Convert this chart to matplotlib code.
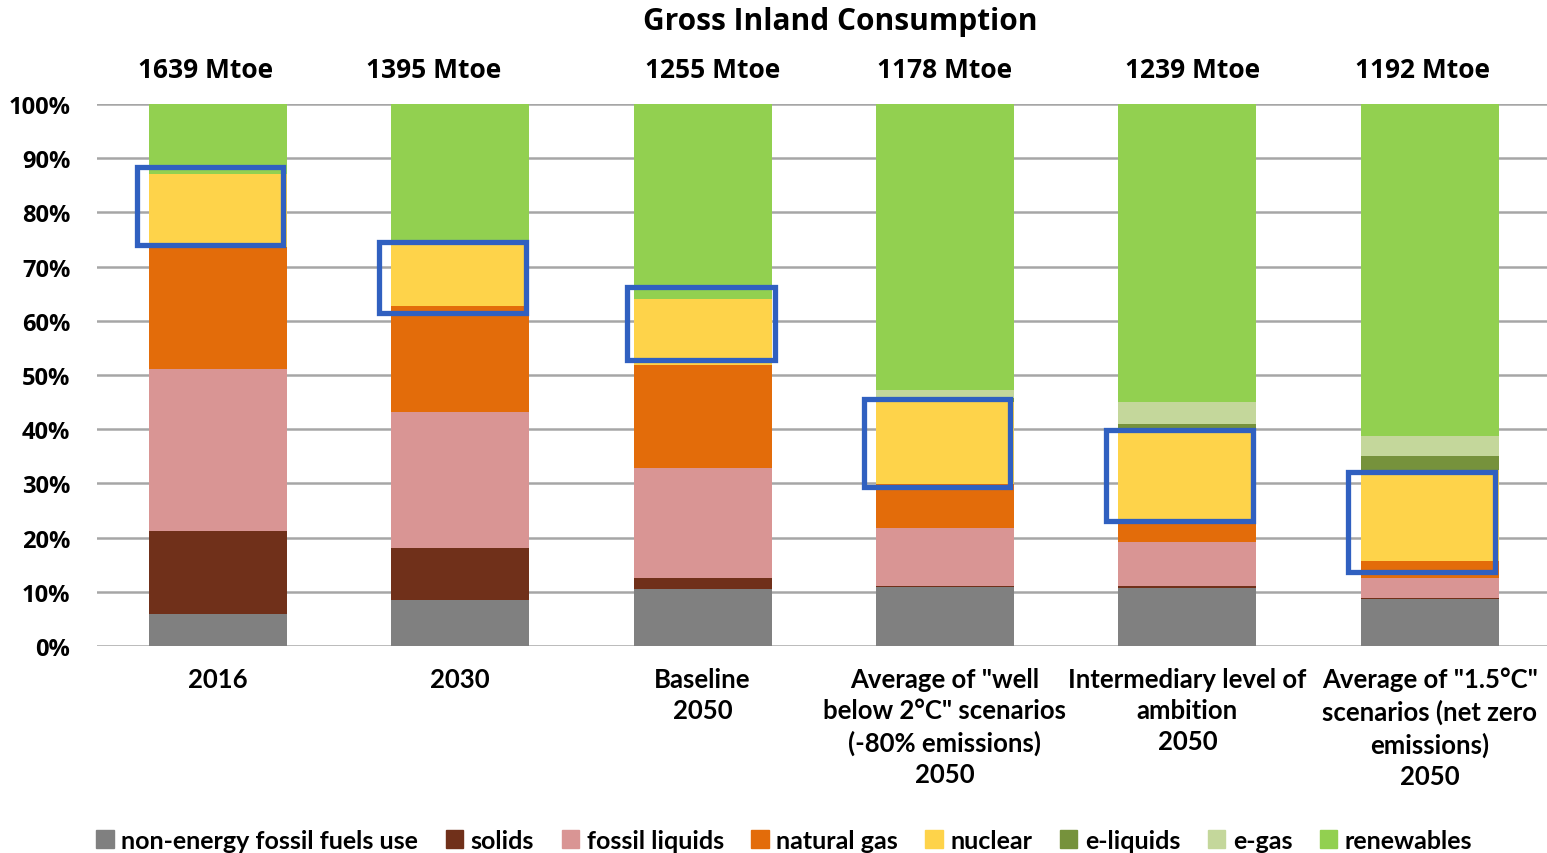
import numpy as np
import matplotlib
matplotlib.use("Agg")
import matplotlib.pyplot as plt
from matplotlib.patches import Rectangle, Patch

# categories and shares (% of gross inland consumption)
categories = ['2016', '2030', 'Baseline\n2050',
              'Average of "well\nbelow 2°C" scenarios\n(-80% emissions)\n2050',
              'Intermediary level of\nambition\n2050',
              'Average of "1.5°C"\nscenarios (net zero\nemissions)\n2050']
totals = ['1639 Mtoe', '1395 Mtoe', '1255 Mtoe', '1178 Mtoe', '1239 Mtoe', '1192 Mtoe']

non_energy = [5.9, 8.5, 10.6, 10.9, 10.7, 8.7]
solids = [15.4, 9.5, 2.0, 0.2, 0.3, 0.2]
fossil_liquids = [29.8, 25.2, 20.2, 10.6, 8.1, 3.7]
natural_gas = [22.6, 19.5, 19.0, 8.2, 4.2, 3.0]
nuclear = [13.3, 11.9, 12.2, 15.2, 16.2, 16.9]
e_liquids = [0.0, 0.0, 0.0, 0.6, 1.4, 2.5]
e_gas = [0.0, 0.0, 0.0, 1.6, 4.1, 3.7]
renewables = [13.1, 25.4, 36.0, 52.7, 55.0, 61.3]

series_names = ['non-energy fossil fuels use', 'solids', 'fossil liquids', 'natural gas',
                'nuclear', 'e-liquids', 'e-gas', 'renewables']
series_colors = ['#808080', '#70301A', '#D99594', '#E36C0A',
                 '#FED34A', '#76923C', '#C4D79B', '#92D050']

# highlight boxes around nuclear (bottom %, top %)
box_bottom = [74.0, 61.5, 52.7, 29.4, 23.0, 13.7]
box_top = [88.4, 74.6, 66.2, 45.5, 39.8, 32.1]

fig = plt.figure(figsize=(15.47, 8.54), dpi=100)
ax = fig.add_axes([0.0625, 0.2424, 0.94, 0.6347])

x = np.arange(len(categories))
width = 0.57
series = [non_energy, solids, fossil_liquids, natural_gas, nuclear, e_liquids, e_gas, renewables]
bottom = np.zeros(len(categories))
for vals, name, col in zip(series, series_names, series_colors):
    ax.bar(x, vals, width, bottom=bottom, color=col, label=name, zorder=3, linewidth=0)
    bottom += np.array(vals)

for i in range(len(categories)):
    left = -0.335 if i != 2 else -0.31
    right = 0.27 if i != 2 else 0.30
    ax.add_patch(Rectangle((x[i] + left, box_bottom[i]), right - left,
                           box_top[i] - box_bottom[i], fill=False,
                           edgecolor='#3060C0', linewidth=3.8, zorder=5))

ax.set_xlim(-0.5, 5.5)
ax.set_ylim(0, 100)
ax.set_yticks(np.arange(0, 101, 10))
ax.set_yticklabels([f'{v}%' for v in range(0, 101, 10)],
                   fontfamily='Open Sans', fontweight='bold', fontsize=17)
ax.grid(axis='y', color='#A6A6A6', linewidth=1.8, zorder=0)
ax.tick_params(axis='y', length=0, pad=19)
ax.tick_params(axis='x', length=0, pad=15)
for s in ax.spines.values():
    s.set_visible(False)
ax.set_xticks(x)
ax.set_xticklabels(categories, fontfamily='Lato', fontweight='bold', fontsize=18.5,
                   linespacing=1.36, va='top')

label_shift = [-0.05, -0.11, 0.04, 0.0, 0.02, -0.03]
for i, t in enumerate(totals):
    ax.text(x[i] + label_shift[i], 1.064, t, transform=ax.get_xaxis_transform(),
            ha='center', va='center', fontfamily='Open Sans', fontweight='bold', fontsize=19)

fig.text(0.543, 0.974, 'Gross Inland Consumption', ha='center', va='center',
         fontfamily='Open Sans', fontweight='bold', fontsize=21.5)

handles = [Patch(color=c, label=n) for n, c in zip(series_names, series_colors)]
leg = fig.legend(handles=handles, loc='center', bbox_to_anchor=(0.507, 0.015), ncol=8,
                 frameon=False, handlelength=0.7, handleheight=0.7, handletextpad=0.3,
                 columnspacing=1.1, prop={'family': 'Lato', 'weight': 'bold', 'size': 18})

fig.savefig('out.png', dpi=100)
